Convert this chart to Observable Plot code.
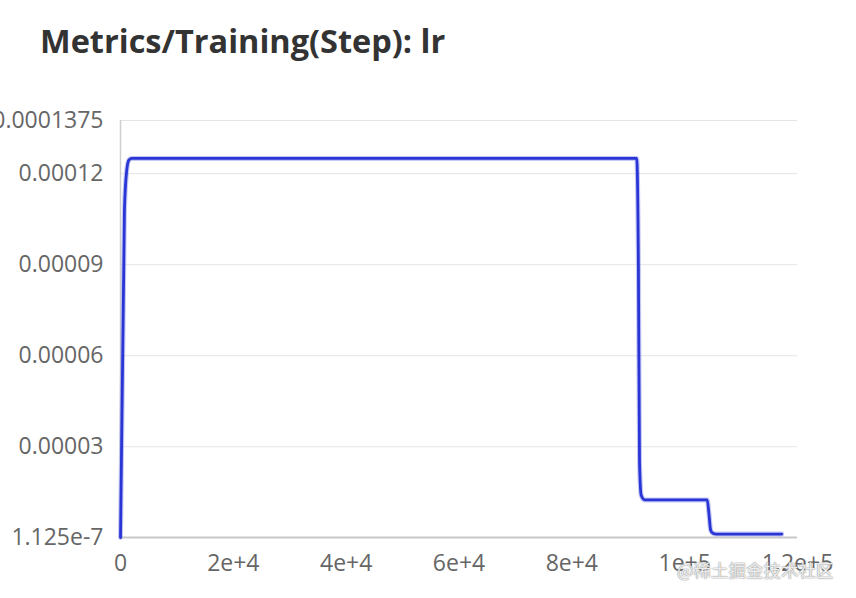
<!DOCTYPE html>
<html>
<head>
<meta charset="utf-8">
<script src="https://cdn.jsdelivr.net/npm/d3@7"></script>
<script src="https://cdn.jsdelivr.net/npm/@observablehq/plot@0.6"></script>
<style>
  html, body { margin: 0; padding: 0; background: #fff; width: 856px; height: 598px; overflow: hidden; }
  #title { position: absolute; left: 40px; top: 19px; font-family: "Open Sans", "Noto Sans", sans-serif; font-weight: 700; font-size: 32.5px; line-height: 44px; color: #333; letter-spacing: 0px; }
  #chart { position: absolute; left: 0; top: 80px; }
  #wm { position: absolute; left: 677px; top: 557px; font-family: "Noto Sans CJK SC", sans-serif; font-size: 17.5px; color: rgba(255,255,255,0.85); text-shadow: 0 0 1.5px #888, 0 0 1px #999; }
</style>
</head>
<body>
<div id="title">Metrics/Training(Step): lr</div>
<div id="chart"></div>
<div id="wm">@稀土掘金技术社区</div>
<script>
// Training step vs learning rate
const steps = [0, 700, 1100, 1500, 2000, 91500, 91800, 92000, 92300, 92900, 104000, 104300, 104600, 105000, 105600, 117200];
const lrs = [1.125e-7, 1.08e-4, 1.21e-4, 1.245e-4, 1.25e-4, 1.25e-4, 9.0e-5, 2.5e-5, 1.4e-5, 1.25e-5, 1.25e-5, 8.0e-6, 2.6e-6, 1.5e-6, 1.25e-6, 1.25e-6];
const yTicks = [1.125e-7, 0.00003, 0.00006, 0.00009, 0.00012, 0.0001375];
const yTickLabels = ["1.125e-7", "0.00003", "0.00006", "0.00009", "0.00012", "0.0001375"];
const xTicks = [0, 20000, 40000, 60000, 80000, 100000, 120000];
const xTickLabels = ["0", "2e+4", "4e+4", "6e+4", "8e+4", "1e+5", "1.2e+5"];

const data = steps.map((s, i) => ({step: s, lr: lrs[i]}));

const chart = Plot.plot({
  width: 856,
  height: 518,
  marginLeft: 120,
  marginRight: 59,
  marginTop: 40,
  marginBottom: 61,
  style: {fontFamily: "'Open Sans', 'Noto Sans', sans-serif", fontSize: "23px", color: "#666", overflow: "visible", background: "transparent"},
  x: {domain: [0, 120000], ticks: xTicks, tickFormat: (d) => xTickLabels[xTicks.indexOf(d)], label: null},
  y: {domain: [1.125e-7, 0.0001375], ticks: yTicks, tickFormat: (d) => yTickLabels[yTicks.indexOf(d)], label: null},
  marks: [
    Plot.gridY(yTicks, {stroke: "#e5e5e5", strokeOpacity: 1, strokeWidth: 1}),
    Plot.axisY({ticks: yTicks, tickSize: 0, tickPadding: 17, fill: "#666", fontSize: 23, tickFormat: (d) => yTickLabels[yTicks.indexOf(d)]}),
    Plot.axisX({ticks: xTicks, tickSize: 0, tickPadding: 17, fill: "#666", fontSize: 23, tickFormat: (d) => xTickLabels[xTicks.indexOf(d)]}),
    Plot.ruleX([0], {stroke: "#cfcfcf", strokeWidth: 1.5}),
    Plot.ruleY([1.125e-7], {stroke: "#c8c8c8", strokeWidth: 2}),
    Plot.line(data, {x: "step", y: "lr", stroke: "#7f86e6", strokeWidth: 5, strokeOpacity: 0.45, curve: "monotone-x"}),
    Plot.line(data, {x: "step", y: "lr", stroke: "#2a35d6", strokeWidth: 2.8, curve: "monotone-x"})
  ]
});
document.getElementById("chart").appendChild(chart);
</script>
</body>
</html>
